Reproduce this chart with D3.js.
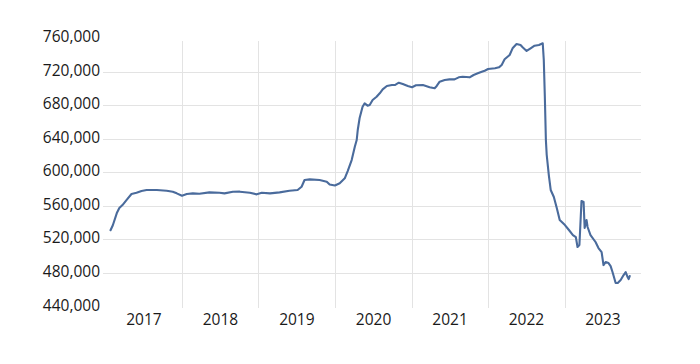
<!DOCTYPE html>
<html>
<head>
<meta charset="utf-8">
<script src="https://cdn.jsdelivr.net/npm/d3@7"></script>
<style>
  html, body { margin: 0; padding: 0; background: #fff; }
  svg { display: block; }
  text { font-family: "Open Sans", "Noto Sans", sans-serif; }
</style>
</head>
<body>
<svg id="chart" width="700" height="364"></svg>
<script>
const dates = [
  "2017-01-25","2017-02-05","2017-02-24","2017-03-08","2017-03-23","2017-04-11","2017-05-05","2017-05-29",
  "2017-06-22","2017-07-16","2017-09-03","2017-10-20","2017-11-18","2017-12-07","2018-01-01","2018-01-24",
  "2018-02-22","2018-03-25","2018-05-12","2018-06-29","2018-07-23","2018-09-01","2018-10-04","2018-11-21",
  "2018-12-24","2019-01-17","2019-02-25","2019-04-12","2019-05-29","2019-07-07","2019-07-26","2019-08-09",
  "2019-09-03","2019-10-20","2019-11-23","2019-12-07","2020-01-01","2020-01-24","2020-02-17","2020-03-02",
  "2020-03-21","2020-04-05","2020-04-14","2020-04-19","2020-04-28","2020-05-12","2020-05-22","2020-06-05",
  "2020-06-15","2020-06-29","2020-07-18","2020-08-02","2020-08-16","2020-09-05","2020-09-29","2020-10-13",
  "2020-11-01","2020-11-20","2020-12-14","2021-01-03","2021-01-22","2021-02-24","2021-03-28","2021-04-21",
  "2021-05-01","2021-05-15","2021-06-08","2021-07-01","2021-07-25","2021-08-14","2021-09-02","2021-10-05",
  "2021-10-24","2021-11-13","2021-12-02","2021-12-16","2022-01-01","2022-02-03","2022-02-22","2022-03-07",
  "2022-03-21","2022-04-14","2022-04-28","2022-05-17","2022-06-05","2022-06-15","2022-07-04","2022-07-23",
  "2022-08-11","2022-09-01","2022-09-19","2022-09-24","2022-09-29","2022-10-04","2022-10-08","2022-10-18",
  "2022-10-27","2022-11-11","2022-11-25","2022-12-09","2023-01-03","2023-01-22","2023-02-10","2023-02-24",
  "2023-03-04","2023-03-13","2023-03-23","2023-04-02","2023-04-07","2023-04-16","2023-04-21","2023-05-05",
  "2023-05-29","2023-06-12","2023-06-27","2023-07-06","2023-07-16","2023-07-30","2023-08-09","2023-08-18",
  "2023-09-02","2023-09-12","2023-09-26","2023-10-10","2023-10-20","2023-10-29","2023-11-03","2023-11-08"
];
const values = [
  531000,537000,551500,557500,561000,567000,574200,575700,
  577800,579000,579000,578100,576900,575000,572200,574200,
  575000,574500,576200,575700,575000,576900,577000,575700,
  573800,575700,575000,576200,578100,579000,582900,590900,
  591700,590900,588900,585500,584300,587000,592900,601600,
  614700,630600,638600,650500,664800,678300,682300,679500,
  680300,686300,690200,694300,699000,703000,704100,704100,
  706900,705300,703000,701400,703800,704100,701400,700200,
  703000,708100,710100,710900,710900,713300,714000,713300,
  716100,718100,720000,721200,723200,724100,725200,728000,
  734800,739900,747900,753000,751800,749100,744700,747900,
  751000,751800,753900,734000,690200,638600,620700,596800,
  579000,570600,557500,543200,537200,531300,525300,522900,
  511000,513400,565900,564700,533700,543200,534900,525300,
  517000,509800,505000,489500,493100,491900,488300,481200,
  468100,468100,471700,477600,481200,475200,472800,476400
];
const yTicks = [440000,480000,520000,560000,600000,640000,680000,720000,760000];
const yGrid = [480000,520000,560000,600000,640000,680000,720000];
const xLabels = ["2017","2018","2019","2020","2021","2022","2023"];
const xGrid = ["2018","2019","2020","2021","2022","2023"];

const parse = d3.timeParse("%Y-%m-%d");
const data = dates.map((d, i) => ({ date: parse(d), value: values[i] }));

const svg = d3.select("#chart");
const x = d3.scaleTime()
  .domain([new Date(2017, 0, 1), new Date(2024, 0, 1)])
  .range([105.5, 641]);
const y = d3.scaleLinear()
  .domain([440000, 760000])
  .range([306.6, 38.15]);

const gridColor = "#e3e3e3";

svg.append("g").selectAll("line").data(yGrid).join("line")
  .attr("x1", 103).attr("x2", 641)
  .attr("y1", d => Math.round(y(d)) + 0.5).attr("y2", d => Math.round(y(d)) + 0.5)
  .attr("stroke", gridColor).attr("stroke-width", 1);

svg.append("g").selectAll("line").data(xGrid).join("line")
  .attr("x1", d => Math.round(x(new Date(+d, 0, 1))) + 0.5)
  .attr("x2", d => Math.round(x(new Date(+d, 0, 1))) + 0.5)
  .attr("y1", 41).attr("y2", 308)
  .attr("stroke", gridColor).attr("stroke-width", 1);

const yAxis = d3.axisLeft(y).tickValues(yTicks).tickFormat(d3.format(",")).tickSize(0).tickPadding(0);
const gy = svg.append("g").attr("transform", "translate(100,-1.5)").call(yAxis);
gy.select(".domain").remove();
gy.selectAll("text").attr("font-size", 15.5).attr("fill", "#1a1a1a")
  .attr("font-family", "'Open Sans', 'Noto Sans', sans-serif");

const xAxis = d3.axisBottom(x)
  .tickValues(xLabels.map(d => new Date(+d, 6, 1)))
  .tickFormat(d3.timeFormat("%Y")).tickSize(0).tickPadding(0);
const gx = svg.append("g").attr("transform", "translate(0,314)").call(xAxis);
gx.select(".domain").remove();
gx.selectAll("text").attr("font-size", 15.5).attr("fill", "#1a1a1a")
  .attr("font-family", "'Open Sans', 'Noto Sans', sans-serif");

const line = d3.line().x(d => x(d.date)).y(d => y(d.value)).curve(d3.curveLinear);
svg.append("path").datum(data)
  .attr("fill", "none")
  .attr("stroke", "#4a6b9c")
  .attr("stroke-width", 2.1)
  .attr("stroke-linejoin", "round")
  .attr("stroke-linecap", "round")
  .attr("d", line);
</script>
</body>
</html>
